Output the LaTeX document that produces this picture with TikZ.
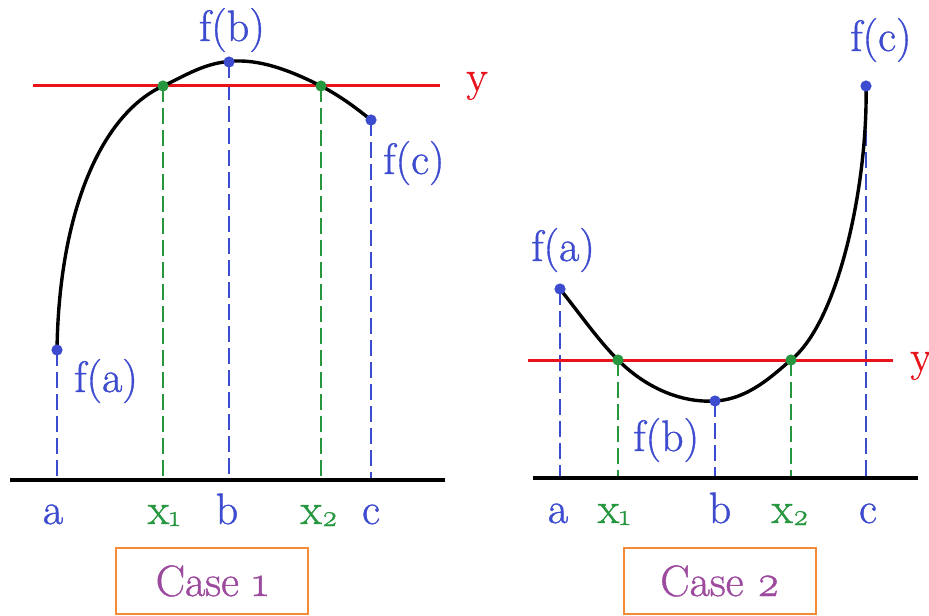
\documentclass[tikz,border=0pt]{standalone}
\usepackage{fontspec}
\newfontfamily\lblfont{Latin Modern Roman}[FakeBold=0.9]
\definecolor{lblue}{HTML}{3D4BCF}
\definecolor{lgreen}{HTML}{26963F}
\definecolor{lred}{HTML}{E8141C}
\definecolor{lpurple}{HTML}{9C4A9E}
\definecolor{lorange}{HTML}{F28C38}
\newcommand\mysub[1]{\raisebox{-1pt}{\fontsize{15}{15}\selectfont\oldstylenums{#1}}}
\begin{document}
\begin{tikzpicture}[x=0.5pt,y=-0.5pt,
  lbl/.style={inner sep=0pt, font=\lblfont\fontsize{22}{26}\selectfont},
  bluelbl/.style={lbl, text=lblue},
  greenlbl/.style={lbl, text=lgreen},
  redlbl/.style={lbl, text=lred},
  bdash/.style={draw=lblue, line width=1pt, dash pattern=on 8pt off 3pt},
  gdash/.style={draw=lgreen, line width=1pt, dash pattern=on 8pt off 3pt},
  axisline/.style={draw=black, line width=1.7pt},
  level/.style={draw=lred, line width=1.5pt},
  curveline/.style={draw=black, line width=1.7pt},
  bdot/.style={fill=lblue},
  gdot/.style={fill=lgreen},
  casebox/.style={draw=lorange, line width=1pt, minimum width=96pt, minimum height=33pt,
    inner sep=0pt, text=lpurple, font=\lblfont\fontsize{22}{26}\selectfont}]
\useasboundingbox (0,0) rectangle (929,615);

% ===== Case 1 =====
\coordinate (La) at (57,350);
\coordinate (Lx1) at (163,86);
\coordinate (Lb) at (229,62);
\coordinate (Lx2) at (321,86);
\coordinate (Lc) at (371,120);
\coordinate (Lab) at (57,480);
\coordinate (Lx1b) at (163,480);
\coordinate (Lbb) at (229,480);
\coordinate (Lx2b) at (321,480);
\coordinate (Lcb) at (371,480);
\coordinate (Laxl) at (10,480);
\coordinate (Laxr) at (445,480);
\coordinate (Lyl) at (33,86);
\coordinate (Lyr) at (440,86);

\draw[bdash] (La) -- (Lab);
\draw[gdash] (Lx1) -- (Lx1b);
\draw[bdash] (Lb) -- (Lbb);
\draw[gdash] (Lx2) -- (Lx2b);
\draw[bdash] (Lc) -- (Lcb);
\draw[axisline] (Laxl) -- (Laxr);
\draw[level] (Lyl) -- (Lyr);
\draw[curveline] (La) .. controls (59,210) and (102,114) .. (Lx1)
  .. controls (185,76) and (205,62) .. (235,61)
  .. controls (265,60) and (295,73) .. (Lx2)
  .. controls (340,96) and (355,107) .. (Lc);
\fill[bdot] (La) circle (2.8pt);
\fill[bdot] (Lb) circle (2.8pt);
\fill[bdot] (Lc) circle (2.8pt);
\fill[gdot] (Lx1) circle (2.8pt);
\fill[gdot] (Lx2) circle (2.8pt);

\node[bluelbl, anchor=base] (Lfb) at (232,41) {f(b)};
\node[bluelbl, anchor=base west] (Lfc) at (383,174) {f(c)};
\node[bluelbl, anchor=base west] (Lfa) at (74,392) {f(a)};
\node[redlbl, anchor=base west] (Ly) at (466,91) {y};
\node[bluelbl, anchor=base] (Lta) at (53,524) {a};
\node[greenlbl, anchor=base] (Ltx1) at (164,524) {x\mysub{1}};
\node[bluelbl, anchor=base] (Ltb) at (227,524) {b};
\node[greenlbl, anchor=base] (Ltx2) at (319,524) {x\mysub{2}};
\node[bluelbl, anchor=base] (Ltc) at (371,524) {c};
\node[casebox] (case1) at (212,581) {Case \oldstylenums{1}};

% ===== Case 2 =====
\coordinate (Ra) at (560,289);
\coordinate (Rx1) at (618,360);
\coordinate (Rb) at (715,401);
\coordinate (Rx2) at (791,360);
\coordinate (Rc) at (866,86);
\coordinate (Rab) at (560,478);
\coordinate (Rx1b) at (618,478);
\coordinate (Rbb) at (715,478);
\coordinate (Rx2b) at (791,478);
\coordinate (Rcb) at (866,478);
\coordinate (Raxl) at (533,478);
\coordinate (Raxr) at (918,478);
\coordinate (Ryl) at (528,360);
\coordinate (Ryr) at (893,360);

\draw[bdash] (Ra) -- (Rab);
\draw[gdash] (Rx1) -- (Rx1b);
\draw[bdash] (Rb) -- (Rbb);
\draw[gdash] (Rx2) -- (Rx2b);
\draw[bdash] (Rc) -- (Rcb);
\draw[axisline] (Raxl) -- (Raxr);
\draw[level] (Ryl) -- (Ryr);
\draw[curveline] (Ra) .. controls (580,314) and (598,340) .. (Rx1)
  .. controls (645,387) and (680,403) .. (Rb)
  .. controls (750,399) and (775,373) .. (Rx2)
  .. controls (840,320) and (868,180) .. (Rc);
\fill[bdot] (Ra) circle (2.8pt);
\fill[bdot] (Rb) circle (2.8pt);
\fill[bdot] (Rc) circle (2.8pt);
\fill[gdot] (Rx1) circle (2.8pt);
\fill[gdot] (Rx2) circle (2.8pt);

\node[bluelbl, anchor=base west] (Rfc) at (850,51) {f(c)};
\node[bluelbl, anchor=base west] (Rfa) at (531,261) {f(a)};
\node[bluelbl, anchor=base west] (Rfb) at (633,451) {f(b)};
\node[redlbl, anchor=base west] (Ry) at (910,371) {y};
\node[bluelbl, anchor=base] (Rta) at (558,523) {a};
\node[greenlbl, anchor=base] (Rtx1) at (614,523) {x\mysub{1}};
\node[bluelbl, anchor=base] (Rtb) at (720,523) {b};
\node[greenlbl, anchor=base] (Rtx2) at (790,523) {x\mysub{2}};
\node[bluelbl, anchor=base] (Rtc) at (868,523) {c};
\node[casebox] (case2) at (720,581) {Case \oldstylenums{2}};
\end{tikzpicture}
\end{document}
